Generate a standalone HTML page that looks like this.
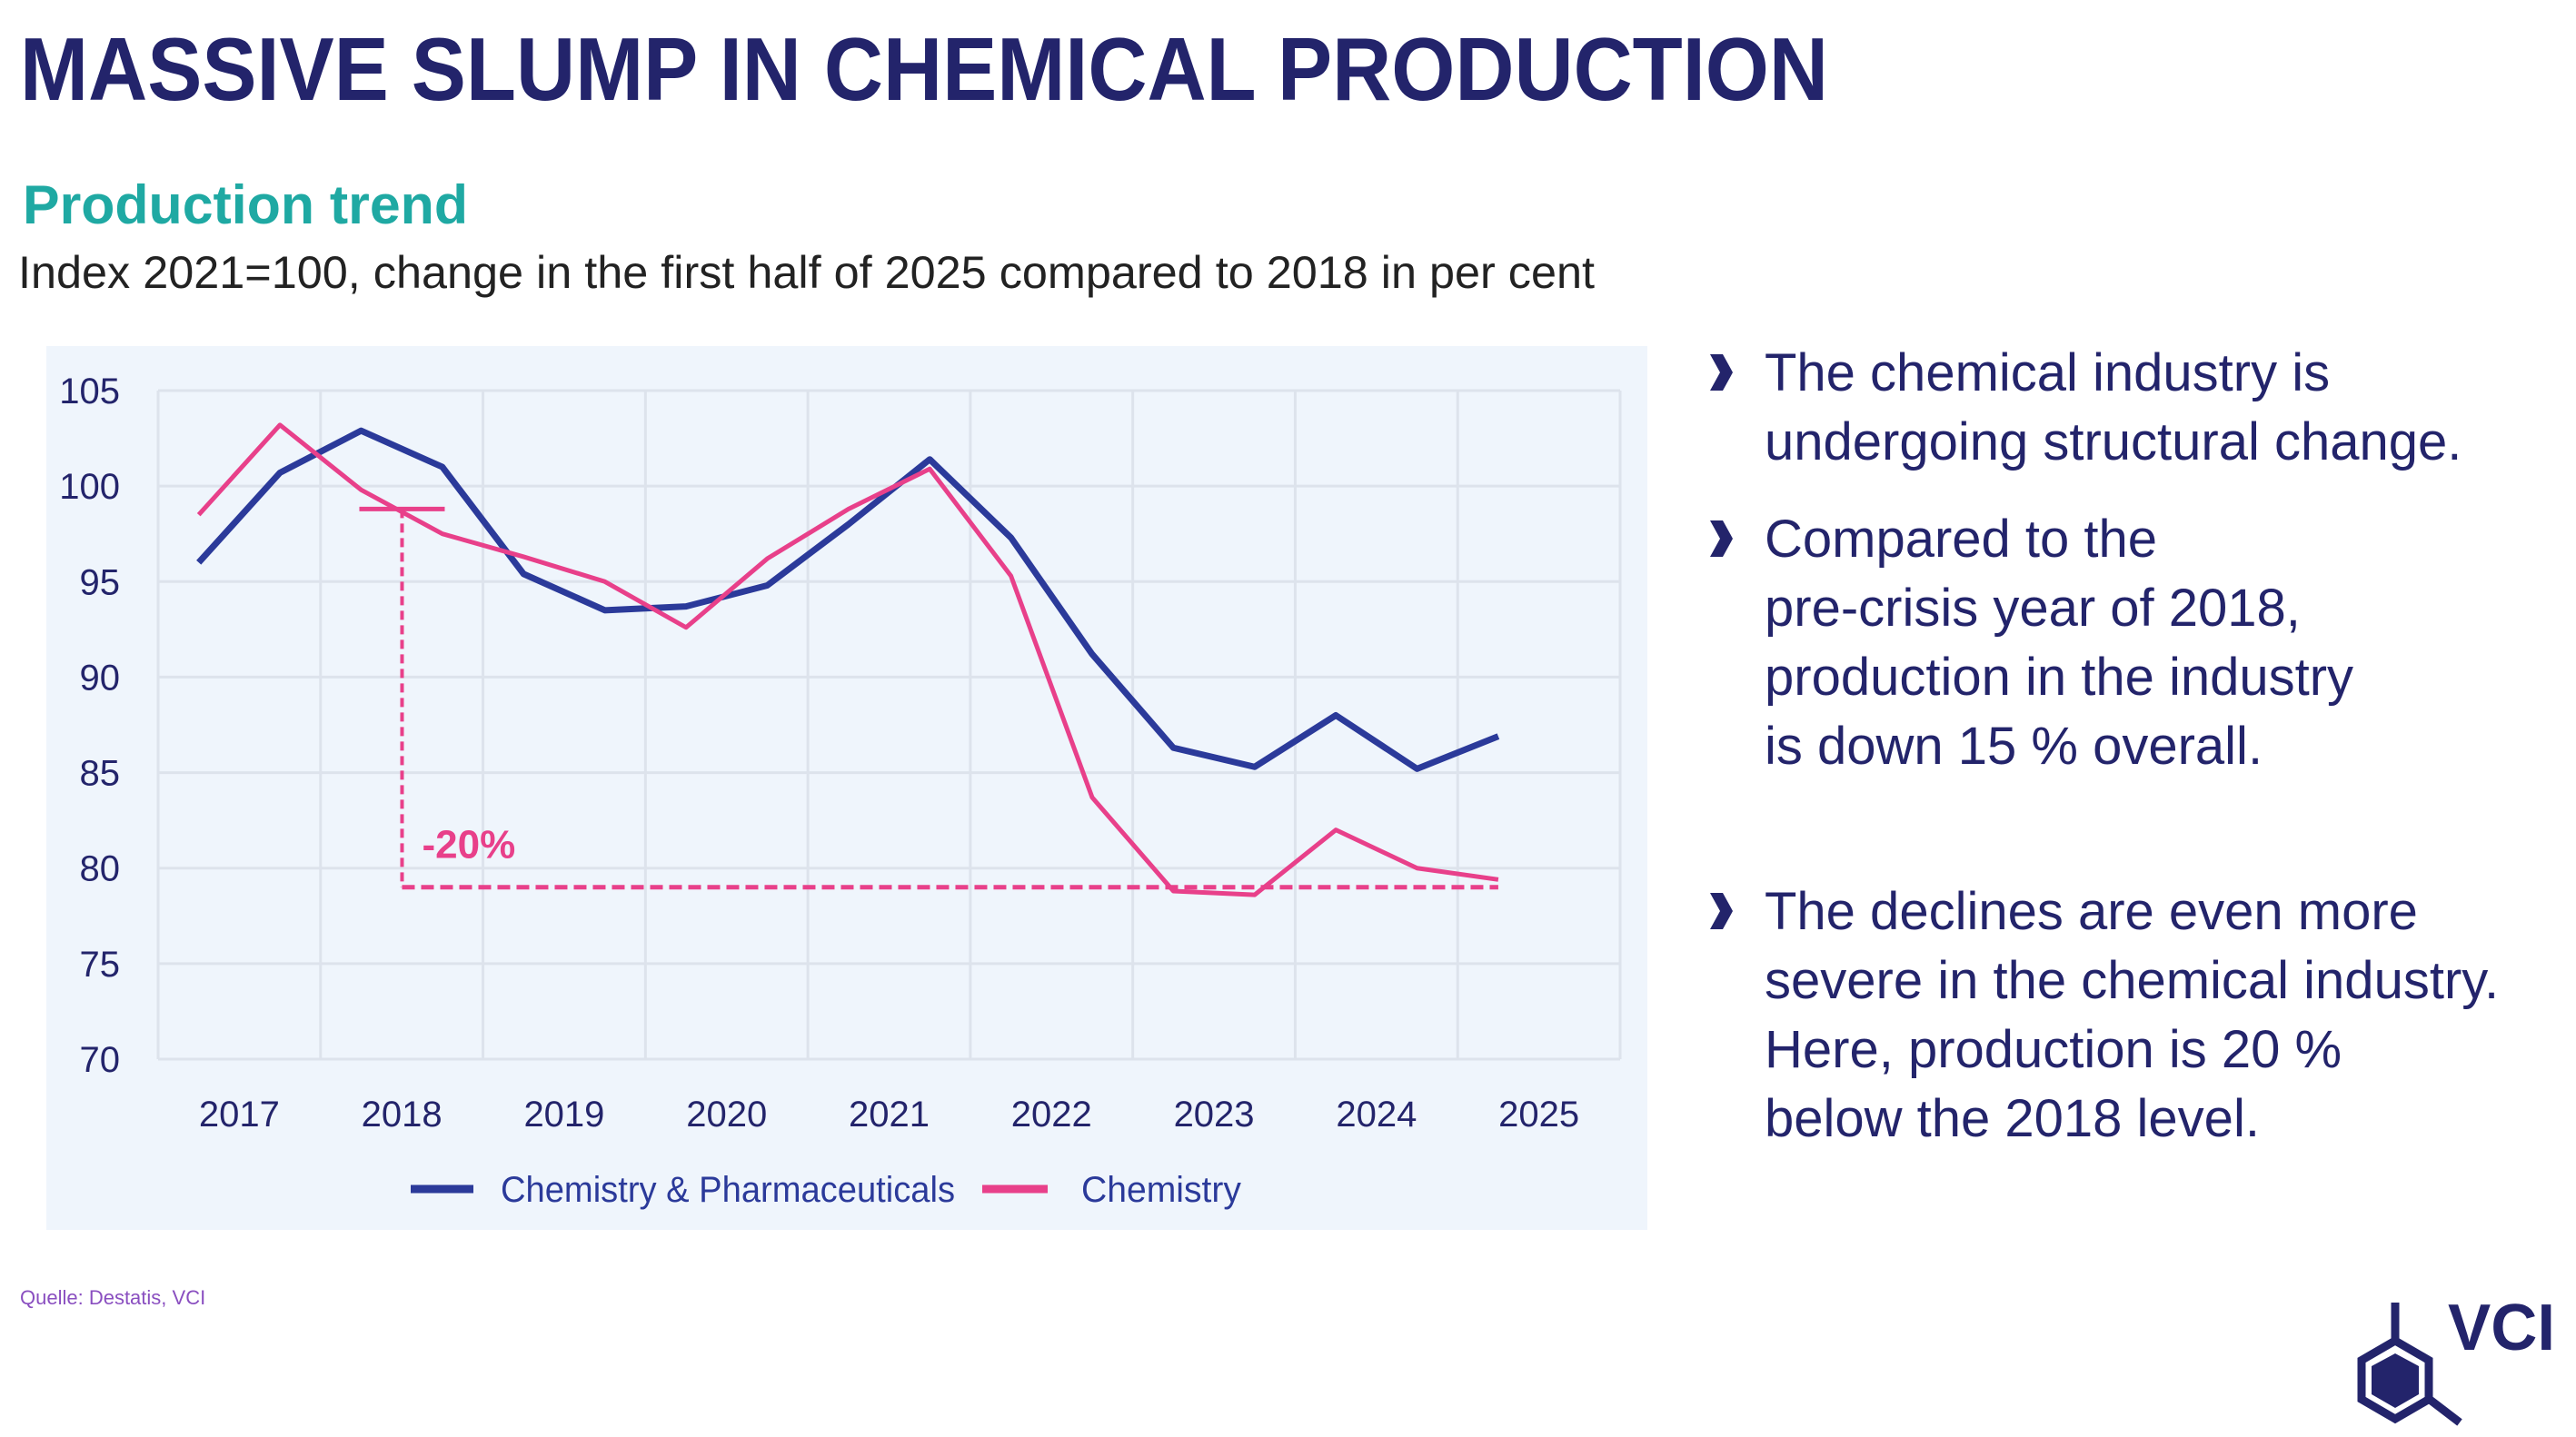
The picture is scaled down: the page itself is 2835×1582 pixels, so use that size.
<!DOCTYPE html>
<html><head><meta charset="utf-8"><style>
html,body{margin:0;padding:0;background:#fff;}
svg{display:block;font-family:"Liberation Sans",sans-serif;}
</style></head><body>
<svg id="s" width="2835" height="1582" viewBox="0 0 2835 1582">
<text x="22" y="110" font-size="98" font-weight="bold" fill="#23246b" textLength="1990" lengthAdjust="spacingAndGlyphs">MASSIVE SLUMP IN CHEMICAL PRODUCTION</text>
<text x="25" y="246" font-size="60" font-weight="bold" fill="#1fa9a3" textLength="490" lengthAdjust="spacingAndGlyphs">Production trend</text>
<text x="20" y="317" font-size="50" fill="#222" textLength="1735" lengthAdjust="spacingAndGlyphs">Index 2021=100, change in the first half of 2025 compared to 2018 in per cent</text>
<rect x="51" y="381" width="1762" height="973" fill="#eff5fc"/>
<g id="grid"></g>
<g id="yt"></g>
<g id="xt"></g>
<g id="ann"></g>
<g id="lines"></g>
<g>
<line x1="452" y1="1309" x2="521" y2="1309" stroke="#2b3a9a" stroke-width="9"/>
<text x="551" y="1323" font-size="40" fill="#2b3a9a" textLength="500" lengthAdjust="spacingAndGlyphs">Chemistry &amp; Pharmaceuticals</text>
<line x1="1081" y1="1309" x2="1153" y2="1309" stroke="#e8408a" stroke-width="9"/>
<text x="1190" y="1323" font-size="40" fill="#2b3a9a" textLength="176" lengthAdjust="spacingAndGlyphs">Chemistry</text>
</g>
<g fill="#23246b" font-size="58">
<g id="bul"></g>
</g>
<text x="22" y="1436" font-size="22" fill="#8a4fc0">Quelle: Destatis, VCI</text>
<g>
<polygon points="2636,1476 2673,1497.5 2673,1540.5 2636,1562 2599,1540.5 2599,1497.5" fill="none" stroke="#23246b" stroke-width="9"/>
<path d="M2610,1504 L2636,1490 L2662,1504 L2662,1521 L2610,1521 Z M2610,1521 L2662,1521 L2662,1535 L2636,1550 L2610,1535 Z" fill="#23246b"/>
<line x1="2636" y1="1476" x2="2636" y2="1434" stroke="#23246b" stroke-width="9"/>
<line x1="2673" y1="1540" x2="2707" y2="1566" stroke="#23246b" stroke-width="9"/>
<text x="2694" y="1486" font-size="72" font-weight="bold" fill="#23246b" textLength="118" lengthAdjust="spacingAndGlyphs">VCI</text>
</g>
</svg>
<script>
const years=["2017","2018","2019","2020","2021","2022","2023","2024","2025"];
const yTicks=[70,75,80,85,90,95,100,105];
const chemPharma=[96,100.7,102.9,101,95.4,93.5,93.7,94.8,98,101.4,97.3,91.2,86.3,85.3,88,85.2,86.9];
const chemistry=[98.5,103.2,99.8,97.5,96.3,95,92.6,96.2,98.8,100.9,95.3,83.7,78.8,78.6,82,80,79.4];
const refLevel=[98.8,79];
const bullets=[["The chemical industry is","undergoing structural change."],["Compared to the","pre-crisis year of 2018,","production in the industry","is down 15 % overall."],["The declines are even more","severe in the chemical industry.","Here, production is 20 %","below the 2018 level."]];
const NS="http://www.w3.org/2000/svg";
const X0=174,X1=1783,Y0=1166,Y1=430,band=(X1-X0)/years.length;
const xp=i=>X0+band*0.25+i*band/2;
const ys=v=>Y0-(v-70)/(105-70)*(Y0-Y1);
function mk(tag,attrs,parent){const e=document.createElementNS(NS,tag);for(const k in attrs)e.setAttribute(k,attrs[k]);parent.appendChild(e);return e;}
const grid=document.getElementById('grid');
yTicks.forEach(v=>{const l=mk('line',{x1:X0,x2:X1,y1:ys(v),y2:ys(v),stroke:'#dde3ec','stroke-width':3},grid);

});
for(let i=0;i<=years.length;i++){const l=mk('line',{x1:X0+i*band,x2:X0+i*band,y1:Y1,y2:Y0,stroke:'#dde3ec','stroke-width':3},grid);

}
const yt=document.getElementById('yt');
yTicks.forEach(v=>{const t=mk('text',{x:132,y:ys(v)+14,'font-size':40,fill:'#23246b','text-anchor':'end'},yt);t.textContent=v;

});
const xt=document.getElementById('xt');
years.forEach((y,i)=>{const t=mk('text',{x:X0+band*(i+0.5),y:1240,'font-size':40,fill:'#23246b','text-anchor':'middle'},xt);t.textContent=y;

});
const ann=document.getElementById('ann');
const ax=xp(2)+45,ay1=ys(refLevel[0]),ay2=ys(refLevel[1]);
const a1=mk('line',{x1:ax,x2:ax,y1:ay1,y2:ay2,stroke:'#e8408a','stroke-width':4,'stroke-dasharray':'10 6'},ann);


const a2=mk('line',{x1:ax,x2:xp(16),y1:ay2,y2:ay2,stroke:'#e8408a','stroke-width':5,'stroke-dasharray':'14 7'},ann);


const a3=mk('line',{x1:ax-47,x2:ax+47,y1:ay1,y2:ay1,stroke:'#e8408a','stroke-width':5},ann);


const at=mk('text',{x:ax+22,y:ay2-32,'font-size':44,'font-weight':'bold',fill:'#e8408a'},ann);at.textContent='-20%';


const lines=document.getElementById('lines');
const p1=mk('polyline',{points:chemPharma.map((v,i)=>xp(i)+','+ys(v)).join(' '),fill:'none',stroke:'#2b3a9a','stroke-width':7,'stroke-linejoin':'round'},lines);


const p2=mk('polyline',{points:chemistry.map((v,i)=>xp(i)+','+ys(v)).join(' '),fill:'none',stroke:'#e8408a','stroke-width':5,'stroke-linejoin':'round'},lines);


const bul=document.getElementById('bul');
const starts=[430,613,1023];
bullets.forEach((b,bi)=>{const y0=starts[bi];
const c=mk('path',{d:`M1882,${y0-40} l14,0 l11,20 l-11,20 l-14,0 l11,-20 z`,fill:'#23246b'},bul);


b.forEach((ln,li)=>{const t=mk('text',{x:1942,y:y0+li*76},bul);t.textContent=ln;

});});
</script>
</body></html>
